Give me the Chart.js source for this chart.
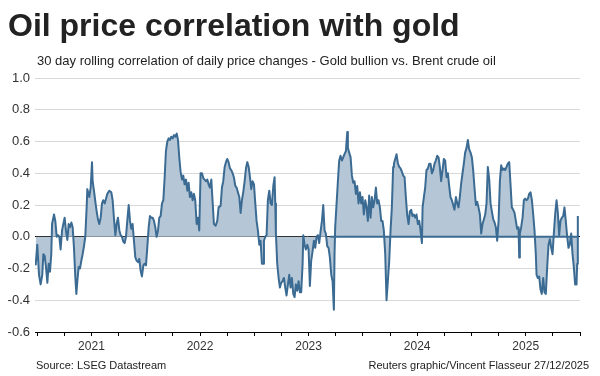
<!DOCTYPE html>
<html>
<head>
<meta charset="utf-8">
<script src="https://cdn.jsdelivr.net/npm/chart.js@4.4.1/dist/chart.umd.min.js"></script>
<style>
  body { margin: 0; background: #fff; }
  #wrap { position: relative; width: 600px; height: 376px; overflow: hidden; font-family: "Liberation Sans", Arial, sans-serif; }
  #chart { position: absolute; left: 0; top: 0; }
  .txt { position: absolute; white-space: nowrap; }
  #title { left: 8px; top: 9px; font-size: 32px; line-height: 32px; font-weight: bold; color: #222; }
  #sub { left: 37px; top: 54px; font-size: 13px; line-height: 13px; color: #222; }
  #src { left: 36px; top: 360px; font-size: 11px; line-height: 11px; color: #222; }
  #credit { right: 11px; top: 360px; font-size: 11px; line-height: 11px; color: #222; }
</style>
</head>
<body>
<div id="wrap">
  <canvas id="chart" width="600" height="376"></canvas>
  <div class="txt" id="title">Oil price correlation with gold</div>
  <div class="txt" id="sub">30 day rolling correlation of daily price changes - Gold bullion vs. Brent crude oil</div>
  <div class="txt" id="src">Source: LSEG Datastream</div>
  <div class="txt" id="credit">Reuters graphic/Vincent Flasseur 27/12/2025</div>
</div>
<script>
// dates as decimal years
const dates = [
  2020.986, 2021.001, 2021.017, 2021.032, 2021.047, 2021.057, 2021.069, 2021.081, 2021.094, 2021.106,
  2021.118, 2021.130, 2021.137, 2021.155, 2021.167, 2021.180, 2021.192, 2021.204, 2021.216, 2021.229,
  2021.241, 2021.253, 2021.265, 2021.278, 2021.290, 2021.302, 2021.315, 2021.327, 2021.339, 2021.351,
  2021.361, 2021.370, 2021.382, 2021.394, 2021.407, 2021.419, 2021.431, 2021.443, 2021.456, 2021.462,
  2021.480, 2021.493, 2021.505, 2021.511, 2021.523, 2021.536, 2021.548, 2021.560, 2021.572, 2021.585,
  2021.597, 2021.609, 2021.622, 2021.634, 2021.646, 2021.664, 2021.683, 2021.695, 2021.707, 2021.720,
  2021.732, 2021.744, 2021.757, 2021.769, 2021.781, 2021.793, 2021.806, 2021.818, 2021.830, 2021.843,
  2021.855, 2021.867, 2021.879, 2021.892, 2021.904, 2021.916, 2021.929, 2021.941, 2021.953, 2021.965,
  2021.978, 2021.990, 2022.002, 2022.014, 2022.027, 2022.039, 2022.051, 2022.064, 2022.076, 2022.088,
  2022.100, 2022.113, 2022.125, 2022.137, 2022.150, 2022.162, 2022.174, 2022.186, 2022.199, 2022.211,
  2022.223, 2022.235, 2022.248, 2022.260, 2022.272, 2022.285, 2022.297, 2022.309, 2022.321, 2022.334,
  2022.346, 2022.358, 2022.371, 2022.383, 2022.395, 2022.407, 2022.420, 2022.432, 2022.444, 2022.456,
  2022.469, 2022.481, 2022.493, 2022.505, 2022.518, 2022.530, 2022.542, 2022.554, 2022.567, 2022.579,
  2022.591, 2022.604, 2022.616, 2022.628, 2022.644, 2022.659, 2022.671, 2022.690, 2022.702, 2022.714,
  2022.727, 2022.739, 2022.751, 2022.763, 2022.776, 2022.788, 2022.800, 2022.812, 2022.825, 2022.837,
  2022.849, 2022.862, 2022.874, 2022.886, 2022.898, 2022.911, 2022.923, 2022.935, 2022.948, 2022.960,
  2022.972, 2022.984, 2022.997, 2023.009, 2023.021, 2023.033, 2023.046, 2023.058, 2023.070, 2023.083,
  2023.089, 2023.101, 2023.113, 2023.125, 2023.138, 2023.150, 2023.162, 2023.175, 2023.187, 2023.193,
  2023.199, 2023.211, 2023.224, 2023.236, 2023.248, 2023.260, 2023.273, 2023.285, 2023.297, 2023.310,
  2023.322, 2023.334, 2023.346, 2023.359, 2023.371, 2023.383, 2023.396, 2023.408, 2023.420, 2023.432,
  2023.445, 2023.451, 2023.463, 2023.475, 2023.488, 2023.500, 2023.512, 2023.524, 2023.537, 2023.549,
  2023.561, 2023.574, 2023.586, 2023.598, 2023.610, 2023.623, 2023.635, 2023.647, 2023.659, 2023.672,
  2023.684, 2023.696, 2023.709, 2023.721, 2023.733, 2023.739, 2023.745, 2023.758, 2023.770, 2023.782,
  2023.794, 2023.807, 2023.819, 2023.831, 2023.844, 2023.856, 2023.862, 2023.874, 2023.887, 2023.899,
  2023.911, 2023.923, 2023.936, 2023.948, 2023.960, 2023.973, 2023.985, 2023.997, 2024.009, 2024.022,
  2024.034, 2024.046, 2024.058, 2024.071, 2024.083, 2024.095, 2024.108, 2024.120, 2024.132, 2024.144,
  2024.157, 2024.169, 2024.181, 2024.193, 2024.206, 2024.218, 2024.230, 2024.243, 2024.255, 2024.267,
  2024.279, 2024.286, 2024.298, 2024.310, 2024.323, 2024.335, 2024.347, 2024.359, 2024.372, 2024.384,
  2024.396, 2024.408, 2024.421, 2024.433, 2024.445, 2024.457, 2024.470, 2024.482, 2024.494, 2024.507,
  2024.519, 2024.531, 2024.544, 2024.550, 2024.562, 2024.574, 2024.586, 2024.599, 2024.611, 2024.623,
  2024.636, 2024.648, 2024.660, 2024.672, 2024.685, 2024.697, 2024.709, 2024.721, 2024.734, 2024.746,
  2024.758, 2024.771, 2024.783, 2024.795, 2024.807, 2024.820, 2024.832, 2024.844, 2024.857, 2024.869,
  2024.881, 2024.893, 2024.906, 2024.918, 2024.930, 2024.942, 2024.955, 2024.967, 2024.979, 2024.992,
  2025.004, 2025.016, 2025.028, 2025.041, 2025.053, 2025.065, 2025.078, 2025.090, 2025.102, 2025.115,
  2025.127, 2025.139, 2025.151, 2025.164, 2025.176, 2025.188, 2025.201, 2025.213, 2025.225, 2025.237,
  2025.250, 2025.262, 2025.274, 2025.286, 2025.299, 2025.311, 2025.323, 2025.335, 2025.348, 2025.360,
  2025.372, 2025.385, 2025.397, 2025.409, 2025.421, 2025.434, 2025.440, 2025.446, 2025.458, 2025.471,
  2025.483, 2025.495, 2025.507, 2025.520, 2025.532, 2025.544, 2025.557, 2025.569, 2025.581, 2025.593,
  2025.600, 2025.612, 2025.624, 2025.636, 2025.648, 2025.661, 2025.673, 2025.685, 2025.698, 2025.710,
  2025.722, 2025.735, 2025.747, 2025.759, 2025.771, 2025.784, 2025.796, 2025.808, 2025.820, 2025.833,
  2025.845, 2025.857, 2025.869, 2025.882, 2025.894, 2025.906, 2025.919, 2025.931, 2025.943, 2025.955,
  2025.968, 2025.974, 2025.980
];

// 30 day rolling correlation, gold vs brent
const correlation = [
  -0.18, -0.05, -0.24, -0.30, -0.24, -0.11, -0.12, -0.19, -0.29, -0.17,
  -0.22, -0.11, 0.08, 0.14, 0.10, 0.00, 0.01, 0.00, -0.08, 0.04,
  0.08, 0.12, 0.04, -0.02, 0.08, 0.06, 0.09, 0.06, -0.07, -0.25,
  -0.36, -0.28, -0.19, -0.20, -0.15, -0.11, -0.06, 0.00, 0.19, 0.30,
  0.25, 0.31, 0.47, 0.35, 0.29, 0.22, 0.16, 0.11, 0.08, 0.12,
  0.21, 0.23, 0.21, 0.24, 0.27, 0.29, 0.28, 0.23, 0.12, 0.01,
  0.08, 0.12, 0.04, 0.01, 0.00, -0.03, -0.04, 0.00, 0.10, 0.20,
  0.10, 0.05, 0.08, -0.03, -0.13, -0.15, -0.16, -0.14, -0.215, -0.25,
  -0.18, -0.17, -0.18, -0.07, 0.06, 0.13, 0.12, 0.12, 0.10, 0.06,
  0.00, 0.04, 0.12, 0.13, 0.21, 0.23, 0.37, 0.54, 0.60, 0.62,
  0.61, 0.63, 0.62, 0.64, 0.63, 0.65, 0.61, 0.50, 0.41, 0.36,
  0.385, 0.33, 0.36, 0.29, 0.34, 0.25, 0.28, 0.23, 0.27, 0.23,
  0.08, 0.12, 0.04, 0.40, 0.40, 0.37, 0.36, 0.35, 0.36, 0.33,
  0.31, 0.36, 0.22, 0.08, 0.07, 0.10, 0.185, 0.196, 0.31, 0.35,
  0.44, 0.47, 0.49, 0.47, 0.43, 0.42, 0.40, 0.375, 0.32, 0.31,
  0.28, 0.25, 0.15, 0.23, 0.28, 0.35, 0.43, 0.47, 0.44, 0.375,
  0.30, 0.35, 0.33, 0.21, 0.10, 0.04, -0.05, -0.025, -0.17, -0.17,
  -0.025, 0.00, 0.01, 0.23, 0.29, 0.21, 0.20, 0.32, 0.375, 0.21,
  0.02, -0.17, -0.26, -0.32, -0.29, -0.28, -0.26, -0.32, -0.37, -0.30,
  -0.24, -0.32, -0.26, -0.36, -0.38, -0.30, -0.34, -0.28, -0.35, -0.35,
  -0.17, 0.01, -0.05, -0.08, -0.05, -0.08, -0.31, -0.15, -0.09, -0.025,
  -0.07, 0.00, 0.01, -0.04, 0.03, 0.10, 0.20, 0.04, 0.02, -0.06,
  -0.07, -0.13, -0.24, -0.28, -0.46, -0.11, 0.06, 0.21, 0.35, 0.48,
  0.51, 0.48, 0.50, 0.52, 0.54, 0.66, 0.56, 0.53, 0.50, 0.385,
  0.34, 0.35, 0.27, 0.32, 0.21, 0.28, 0.21, 0.25, 0.14, 0.23,
  0.185, 0.10, 0.26, 0.12, 0.25, 0.185, 0.23, 0.31, 0.21, 0.23,
  0.185, 0.10, 0.10, 0.04, -0.11, -0.40, -0.28, -0.15, 0.04, 0.185,
  0.44, 0.46, 0.49, 0.52, 0.46, 0.44, 0.43, 0.41, 0.385, 0.375,
  0.25, 0.14, 0.08, 0.16, 0.17, 0.13, 0.14, 0.12, 0.14, 0.08,
  0.10, 0.04, -0.04, 0.185, 0.25, 0.31, 0.42, 0.43, 0.46, 0.46,
  0.40, 0.42, 0.46, 0.48, 0.51, 0.50, 0.44, 0.35, 0.42, 0.49,
  0.48, 0.375, 0.40, 0.32, 0.25, 0.23, 0.20, 0.17, 0.25, 0.21,
  0.185, 0.25, 0.34, 0.40, 0.46, 0.53, 0.56, 0.61, 0.55, 0.53,
  0.50, 0.42, 0.31, 0.20, 0.22, 0.185, 0.14, 0.02, 0.08, 0.11,
  0.14, 0.21, 0.44, 0.36, 0.21, 0.16, 0.11, 0.09, 0.06, -0.025,
  0.10, 0.35, 0.45, 0.42, 0.43, 0.42, 0.44, 0.46, 0.47, 0.33,
  0.185, 0.17, 0.15, 0.10, 0.05, 0.06, -0.13, 0.02, 0.06, 0.12,
  0.23, 0.24, 0.23, 0.24, 0.27, 0.28, 0.23, 0.14, 0.04, -0.11,
  -0.24, -0.26, -0.25, -0.33, -0.36, -0.26, -0.35, -0.36, -0.19, -0.05,
  -0.015, -0.07, -0.11, 0.02, 0.14, 0.23, 0.15, 0.01, 0.10, 0.12,
  0.13, 0.185, 0.10, 0.00, -0.07, -0.05, 0.02, -0.11, -0.19, -0.30,
  -0.30, -0.17, 0.13
];

// the last stretch where the chart's zero line is drawn in series blue
const baselineDates = [2023.70, 2025.98];
const baselineValues = [0, 0];

const yearLabels = ['2021', '2022', '2023', '2024', '2025'];
const yTicks = [-0.6, -0.4, -0.2, 0, 0.2, 0.4, 0.6, 0.8, 1.0];

const lineColor = '#3b6b92';
const fillColor = '#b5c7d6';

const quarterTicks = [];
yearLabels.forEach((y) => {
  const base = Number(y);
  quarterTicks.push(base, base + 0.25, base + 0.5, base + 0.75);
});
quarterTicks.push(2026);

const font = '"Liberation Sans", Arial, sans-serif';

new Chart(document.getElementById('chart'), {
  type: 'line',
  data: {
    datasets: [
      {
        data: baselineDates.map((d, i) => ({ x: d, y: baselineValues[i] })),
        borderColor: lineColor,
        borderWidth: 2,
        pointRadius: 0,
        fill: false
      },
      {
        data: dates.map((d, i) => ({ x: d, y: correlation[i] })),
        borderColor: lineColor,
        backgroundColor: fillColor,
        borderWidth: 2,
        borderJoinStyle: 'round',
        pointRadius: 0,
        tension: 0,
        fill: 'origin'
      }
    ]
  },
  options: {
    responsive: false,
    animation: false,
    layout: { padding: { top: 78, right: 20, bottom: 0, left: 0 } },
    plugins: { legend: { display: false }, tooltip: { enabled: false } },
    scales: {
      x: {
        type: 'linear',
        min: 2020.98,
        max: 2026,
        afterBuildTicks: (scale) => {
          scale.ticks = quarterTicks.map((v) => ({ value: v }));
        },
        afterFit: (scale) => { scale.height = 44; },
        border: { display: true, color: '#000', width: 1 },
        grid: { display: true, drawOnChartArea: false, drawTicks: true, tickLength: 4, color: '#000' },
        ticks: {
          autoSkip: false,
          maxRotation: 0,
          padding: 3,
          color: '#333',
          font: { family: font, size: 12 },
          callback: (v) => {
            const i = yearLabels.indexOf(String(Math.floor(v)));
            return (Math.abs(v - Math.floor(v) - 0.5) < 1e-6 && i >= 0) ? yearLabels[i] : '';
          }
        }
      },
      y: {
        min: -0.6,
        max: 1.0,
        afterBuildTicks: (scale) => {
          scale.ticks = yTicks.map((v) => ({ value: v }));
        },
        afterFit: (scale) => { scale.width = 35; },
        border: { display: false },
        grid: {
          drawTicks: false,
          color: (ctx) => (ctx.tick && Math.abs(ctx.tick.value) < 1e-9 ? '#000' : '#d9d9d9'),
          lineWidth: 1
        },
        ticks: {
          padding: 5,
          color: '#333',
          font: { family: font, size: 13 },
          callback: (v) => Number(v).toFixed(1)
        }
      }
    }
  }
});
</script>
</body>
</html>
